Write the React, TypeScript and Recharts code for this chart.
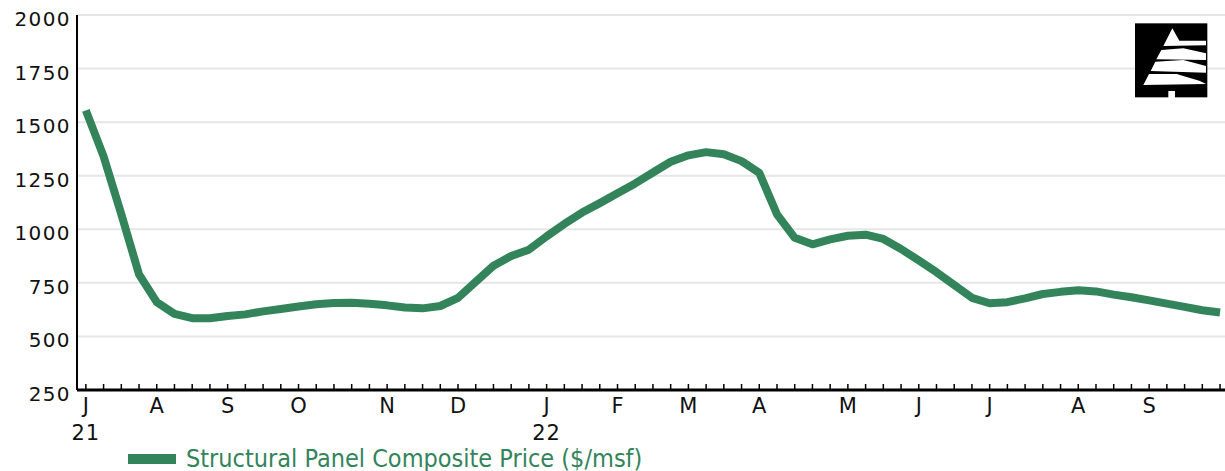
import {
  LineChart,
  Line,
  XAxis,
  YAxis,
  CartesianGrid,
  Legend,
} from "recharts";

// weekly composite price, week ending Friday
const weekEnding = [
  "2021-07-09", "2021-07-16", "2021-07-23", "2021-07-30",
  "2021-08-06", "2021-08-13", "2021-08-20", "2021-08-27",
  "2021-09-03", "2021-09-10", "2021-09-17", "2021-09-24",
  "2021-10-01", "2021-10-08", "2021-10-15", "2021-10-22", "2021-10-29",
  "2021-11-05", "2021-11-12", "2021-11-19", "2021-11-26",
  "2021-12-03", "2021-12-10", "2021-12-17", "2021-12-24", "2021-12-31",
  "2022-01-07", "2022-01-14", "2022-01-21", "2022-01-28",
  "2022-02-04", "2022-02-11", "2022-02-18", "2022-02-25",
  "2022-03-04", "2022-03-11", "2022-03-18", "2022-03-25",
  "2022-04-01", "2022-04-08", "2022-04-15", "2022-04-22", "2022-04-29",
  "2022-05-06", "2022-05-13", "2022-05-20", "2022-05-27",
  "2022-06-03", "2022-06-10", "2022-06-17", "2022-06-24",
  "2022-07-01", "2022-07-08", "2022-07-15", "2022-07-22", "2022-07-29",
  "2022-08-05", "2022-08-12", "2022-08-19", "2022-08-26",
  "2022-09-02", "2022-09-09", "2022-09-16", "2022-09-23", "2022-09-30",
];

const prices = [
  1555, 1340, 1070, 790,
  660, 605, 585, 585,
  595, 603, 617, 628,
  640, 650, 656, 657, 652,
  645, 635, 631, 642,
  680, 755, 830, 875, 905,
  967, 1025, 1078, 1122,
  1168, 1214, 1265, 1315,
  1345, 1360, 1350, 1318,
  1263, 1070, 960, 930, 953,
  970, 975, 955, 908,
  855, 800, 740, 680,
  655, 660, 678, 698, 708,
  715, 710, 695, 683,
  668, 653, 638, 622, 612,
];

const monthTickWeeks = [0, 4, 8, 12, 17, 21, 26, 30, 34, 38, 43, 47, 51, 56, 60];
const monthTicks = ["J", "A", "S", "O", "N", "D", "J", "F", "M", "A", "M", "J", "J", "A", "S"];
const yearTickWeeks = [0, 26];
const yearTicks = ["21", "22"];
const yTicks = [250, 500, 750, 1000, 1250, 1500, 1750, 2000];

const seriesName = "Structural Panel Composite Price ($/msf)";

const GREEN = "#33845a";
const FONT = "'DejaVu Sans', Verdana, sans-serif";

const data = weekEnding.map((d, i) => ({ week: i, date: d, price: prices[i] }));
const allWeeks = weekEnding.map((_, i) => i);

function WeekTick(props: any) {
  const { x, y, payload } = props;
  const w = payload.value;
  const m = monthTickWeeks.indexOf(w);
  const yr = yearTickWeeks.indexOf(w);
  return (
    <g>
      <line x1={x} x2={x} y1={y} y2={y - 6} stroke="#000" strokeWidth={1.5} />
      {m >= 0 && (
        <text x={x} y={y + 16} textAnchor="middle" dominantBaseline="central"
          fontFamily={FONT} fontSize={21} fill="#111">
          {monthTicks[m]}
        </text>
      )}
      {yr >= 0 && (
        <text x={x} y={y + 43} textAnchor="middle" dominantBaseline="central"
          fontFamily={FONT} fontSize={21} fill="#111" letterSpacing={1}>
          {yearTicks[yr]}
        </text>
      )}
    </g>
  );
}

function PriceTick(props: any) {
  const { x, y, payload } = props;
  return (
    <text x={x - 6} y={y + 4} textAnchor="end" dominantBaseline="central"
      fontFamily={FONT} fontSize={20} fill="#111" letterSpacing={1.4}>
      {payload.value}
    </text>
  );
}

function LegendBox() {
  return (
    <div style={{ display: "flex", alignItems: "center", fontFamily: "'DejaVu Sans Condensed', sans-serif", fontSize: 25, color: GREEN, whiteSpace: "nowrap" }}>
      <span style={{ display: "inline-block", width: 48, height: 10, background: GREEN, marginRight: 10 }} />
      <span>{seriesName}</span>
    </div>
  );
}

function Logo() {
  // small tree mark, top right corner
  return (
    <svg width={105} height={100} viewBox="0 0 315 300"
      style={{ position: "absolute", left: 1120, top: 10 }}>
      <rect x={45} y={40} width={217} height={222} fill="#000" />
      <g fill="#fff">
        <polygon points="157,55 178,92 258,92 258,106 130,108" />
        <polygon points="124,120 190,115 258,130 258,150 109,148" />
        <polygon points="106,155 190,150 258,168 258,188 92,183" />
        <polygon points="87,192 170,192 240,213 258,222 70,225" />
        <rect x={145} y={243} width={20} height={47} />
      </g>
    </svg>
  );
}

export default function App() {
  return (
    <div style={{ position: "absolute", left: 0, top: 0, width: 1225, height: 471, background: "#fff" }}>
      <LineChart width={1225} height={471} data={data}
        margin={{ top: 15, right: 0, bottom: 20, left: 0 }}>
        <CartesianGrid vertical={false} stroke="#e6e6e6" strokeWidth={2} />
        <XAxis
          dataKey="week"
          type="number"
          domain={[-0.5, 64.28]}
          ticks={allWeeks}
          interval={0}
          height={61}
          axisLine={{ stroke: "#000", strokeWidth: 3 }}
          tickLine={false}
          tickSize={0}
          tickMargin={0}
          tick={<WeekTick />}
        />
        <YAxis
          domain={[250, 2000]}
          ticks={yTicks}
          interval={0}
          width={77}
          axisLine={{ stroke: "#000", strokeWidth: 2 }}
          tickLine={false}
          tickSize={0}
          tickMargin={0}
          tick={<PriceTick />}
        />
        <Legend verticalAlign="middle" wrapperStyle={{ top: 444, left: 128, width: 700 }}
          content={<LegendBox />} />
        <Line
          type="linear"
          dataKey="price"
          name={seriesName}
          stroke={GREEN}
          strokeWidth={8}
          strokeLinejoin="round"
          dot={false}
          isAnimationActive={false}
        />
      </LineChart>
      <Logo />
    </div>
  );
}
